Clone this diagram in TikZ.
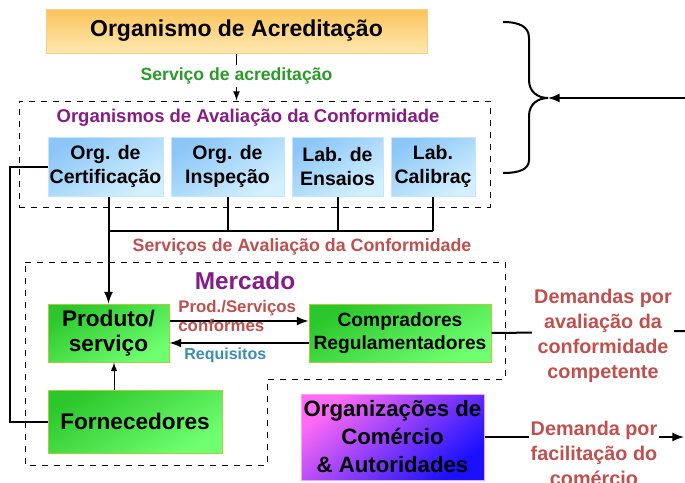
\documentclass[tikz,border=0pt]{standalone}
\usepackage{fontspec}
\setmainfont{Liberation Sans}
\usetikzlibrary{arrows}

\definecolor{acredtop}{HTML}{FBC35A}
\definecolor{acredbot}{HTML}{FEE8B2}
\definecolor{acredrim}{HTML}{F9CF86}
\definecolor{bluetop}{HTML}{8CC6F7}
\definecolor{bluebot}{HTML}{D2F0FF}
\definecolor{bluerim}{HTML}{C4E6FF}
\definecolor{greentop}{HTML}{2CC72C}
\definecolor{greenbot}{HTML}{70FF70}
\definecolor{greenrim}{HTML}{A6CF3A}
\definecolor{magtop}{HTML}{FF6AF5}
\definecolor{magbot}{HTML}{1A10FF}
\definecolor{magrim}{HTML}{FF9CFF}
\definecolor{acgreen}{HTML}{2A9A2A}
\definecolor{acpurple}{HTML}{861D86}
\definecolor{acred}{HTML}{C0504D}
\definecolor{acteal}{HTML}{3A8DB5}

\begin{document}
\begin{tikzpicture}[x=0.5pt,y=-0.5pt,
    box/.style={draw,line width=0.5pt,align=center,inner sep=0pt},
    acredbox/.style={box,draw=acredrim,top color=acredtop,bottom color=acredbot,
      minimum width=190.5pt,minimum height=22pt,font=\bfseries\fontsize{11.5}{14}\selectfont},
    bluebox/.style={box,draw=bluerim,top color=bluetop,bottom color=bluebot,shading angle=30,
      minimum height=29.5pt,font=\bfseries\fontsize{9.75}{12}\selectfont},
    greenbox/.style={box,draw=greenrim,top color=greentop,bottom color=greenbot,shading angle=30},
    magbox/.style={box,draw=magrim,top color=magtop,bottom color=magbot,shading angle=40,
      minimum width=91.5pt,minimum height=43pt,font=\bfseries\fontsize{11.1}{14}\selectfont},
    area/.style={draw,dashed,line width=0.5pt},
    link/.style={line width=1pt},
    demand/.style={fill=white,align=center,inner sep=1pt,text=acred,
      font=\bfseries\fontsize{9.9}{12.5}\selectfont}
  ]
  \useasboundingbox[fill=white] (0,0) rectangle (685,482);

  % accreditation body and the conformity assessment bodies
  \draw (236.5,31) node[acredbox] (acred) {Organismo de Acreditação};
  \node[area,minimum width=235.5pt,minimum height=53pt] (oac) at (254.5,154) {};
  \node[text=acpurple,font=\bfseries\fontsize{9.25}{11}\selectfont] (oaclabel) at (248,118)
    {Organismos de Avaliação da Conformidade};
  \draw
    (105.5,166.5) node[bluebox,minimum width=57.5pt] (cert) {Org. de\\Certificação}
    (227.5,166.5) node[bluebox,minimum width=56.5pt] (insp) {Org. de\\Inspeção}
    (337.5,166.5) node[bluebox,minimum width=45.5pt] (ensaios) {Lab. de\\Ensaios}
    (433,166.5) node[bluebox,minimum width=42pt] (calib) {Lab.\\Calibraç};
  \draw[line width=0.6pt,-latex] (acred.south) -- (acred.south |- oac.north)
    node[pos=0.48,fill=white,inner sep=1.5pt,text=acgreen,
      font=\bfseries\fontsize{8.8}{10}\selectfont] (acserv) {Serviço de acreditação};

  % brace and the arrow coming into it
  \draw[link] (503,22) .. controls (520,22) and (529,27) .. (529,38) -- (529,80)
    .. controls (529,92) and (538,98) .. (548,98)
    .. controls (538,98) and (529,104) .. (529,116) -- (529,160)
    .. controls (529,169) and (520,173) .. (503,173);
  \coordinate (bracetip) at (548,98);
  \coordinate (braceend) at (686,98);
  \draw[link,-latex] (braceend) -- (bracetip);

  % market
  \draw[area] (25,262) -- (505,262) -- (505,379) -- (267,379) -- (267,465) -- (25,465) -- cycle;
  \node[text=acpurple,font=\bfseries\fontsize{12.2}{14}\selectfont] (mercado) at (245,281) {Mercado};
  \draw
    (108.5,333) node[greenbox,minimum width=60.5pt,minimum height=29pt,
      font=\bfseries\fontsize{11.3}{12.5}\selectfont] (prod) {Produto/\\serviço}
    (400,333) node[greenbox,minimum width=91pt,minimum height=29pt,
      font=\bfseries\fontsize{9.6}{11.5}\selectfont] (compr) {Compradores\\Regulamentadores}
    (135,421.5) node[greenbox,minimum width=87pt,minimum height=31.5pt,
      font=\bfseries\fontsize{11.3}{12.5}\selectfont] (forn) {Fornecedores};

  % conformity assessment services
  \coordinate (bus) at (0,231);
  \draw[link] (insp.south) -- (insp.south |- bus);
  \draw[link] (ensaios.south) -- (ensaios.south |- bus);
  \draw[link] (calib.south) -- (calib.south |- bus);
  \draw[link] (prod.north |- bus) -- (calib.south |- bus);
  \draw[link,-latex] (prod.north |- cert.south) -- (prod.north);
  \node[text=acred,font=\bfseries\fontsize{8.9}{10}\selectfont] (savc) at (302,247)
    {Serviços de Avaliação da Conformidade};
  \draw[link] (cert.west) -- ++(-38,0) |- (forn.west);

  % flows inside the market
  \draw[link,-latex] ([yshift=6pt]prod.east) -- ([yshift=6pt]compr.west);
  \draw[link,-latex] ([yshift=-5pt]compr.west) -- ([yshift=-5pt]prod.east);
  \node[anchor=west,align=left,inner sep=0pt,text=acred,
    font=\bfseries\fontsize{8.4}{9.5}\selectfont] (conf) at (178,316) {Prod./Serviços\\conformes};
  \node[anchor=west,inner sep=0pt,text=acteal,
    font=\bfseries\fontsize{8}{9}\selectfont] (req) at (184,355) {Requisitos};
  \draw[line width=0.5pt,-latex] ([xshift=2.75pt]prod.south |- forn.north) -- ([xshift=2.75pt]prod.south);

  % demands
  \coordinate (demedge) at (686,331);
  \draw[link] (compr.east) -- (demedge);
  \node[demand] (demaval) at (603,335.5)
    {Demandas por\\avaliação da\\conformidade\\competente};
  \draw (392.5,437) node[magbox] (omc) {Organizações de\\Comércio\\\& Autoridades};
  \coordinate (omcedge) at (684,437);
  \draw[link,-latex] (omc.east) -- (omcedge);
  \node[demand] (demfac) at (594,453) {Demanda por\\facilitação do\\comércio};
\end{tikzpicture}
\end{document}
